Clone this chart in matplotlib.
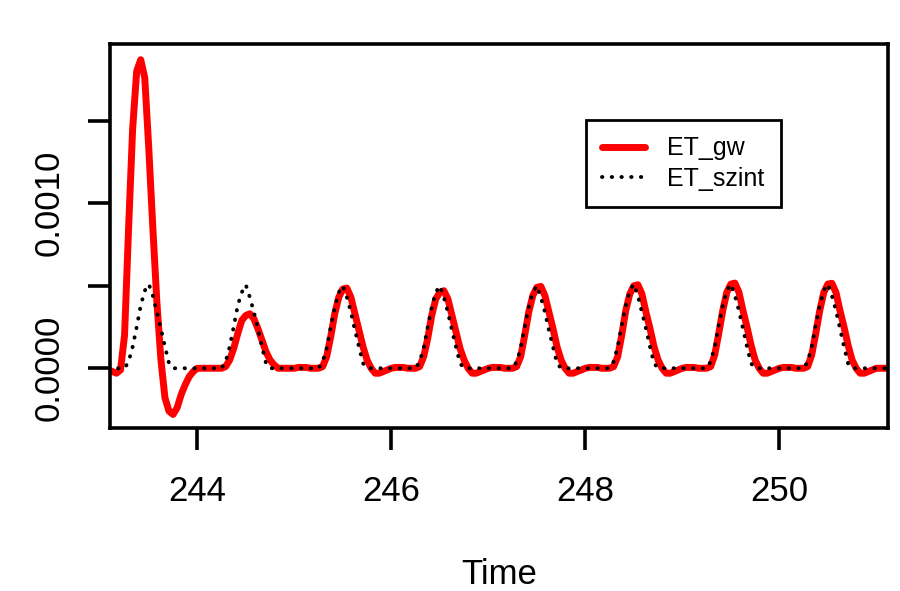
import numpy as np
import matplotlib
matplotlib.use("Agg")
import matplotlib.pyplot as plt

plt.rcParams['font.family'] = ['Liberation Sans', 'DejaVu Sans']

# hourly values, series starts at day 243, hour 2
first_hour = 2
et_gw = [
    # 243 (h2-h23)
    -0.00001, -0.00002, -0.00003, -0.00001, 0.0002, 0.00085, 0.00145, 0.0018, 0.00187, 0.00176, 0.00133,
    0.00085, 0.0004, 0.00005, -0.00018, -0.00026, -0.00028, -0.00024, -0.00016, -0.0001, -0.00005, -0.00002,
    # 244
    0, 0, 0, 0, 0, 0, 0, 0.00001, 0.00005, 0.00012, 0.00021, 0.00029,
    0.00032, 0.00033, 0.0003, 0.00024, 0.00017, 0.0001, 0.00005, 0.00002, 0, 0, 0, 0,
    # 245
    0, 0.000005, 0.000005, 0.000005, 0, 0, 0, 0.00001, 0.00007, 0.00019, 0.00033, 0.00043,
    0.00048, 0.000486, 0.00043, 0.00033, 0.00023, 0.00013, 0.00005, 0, -0.00003, -0.00003, -0.00002, -0.00001,
    # 246
    0, 0.000005, 0.000005, 0.000005, 0, 0, 0, 0.00001, 0.00007, 0.00018, 0.00032, 0.00042,
    0.00046, 0.00047, 0.00042, 0.00032, 0.00022, 0.00012, 0.00005, 0, -0.00003, -0.00003, -0.00002, -0.00001,
    # 247
    0, 0.000005, 0.000005, 0.000005, 0, 0, 0, 0.00001, 0.00007, 0.0002, 0.00034, 0.00044,
    0.00049, 0.000496, 0.00044, 0.00034, 0.00024, 0.00013, 0.00005, 0, -0.00003, -0.00003, -0.00002, -0.00001,
    # 248
    0, 0.000005, 0.000005, 0.000005, 0, 0, 0, 0.00001, 0.00007, 0.0002, 0.00035, 0.00045,
    0.0005, 0.000506, 0.00045, 0.00034, 0.00024, 0.00013, 0.00005, 0, -0.00003, -0.00003, -0.00002, -0.00001,
    # 249
    0, 0.000005, 0.000005, 0.000005, 0, 0, 0, 0.00001, 0.00008, 0.00021, 0.00035, 0.00046,
    0.00051, 0.000516, 0.00046, 0.00035, 0.00025, 0.00014, 0.00005, 0, -0.00003, -0.00003, -0.00002, -0.00001,
    # 250
    0, 0.000005, 0.000005, 0.000005, 0, 0, 0, 0.00001, 0.00008, 0.00021, 0.00035, 0.00046,
    0.00051, 0.000515, 0.00046, 0.00035, 0.00025, 0.00014, 0.00005, 0, -0.00003, -0.00003, -0.00002, -0.00001,
    # 251 (h0-h3)
    0, 0, 0, 0,
]
et_szint = [
    # 243 (h2-h23)
    0, 0, 0, 0, 0, 0.00004, 0.00013, 0.00025, 0.00038, 0.00047, 0.00051,
    0.00044, 0.00034, 0.00024, 0.00013, 0.00003, 0, 0, 0, 0, 0, 0,
    # 244
    0, 0, 0, 0, 0, 0, 0, 0.00004, 0.00013, 0.00025, 0.00038, 0.00046,
    0.000506, 0.00043, 0.00034, 0.00024, 0.00013, 0.00003, 0, 0, 0, 0, 0, 0,
    # 245
    0, 0, 0, 0, 0, 0, 0, 0.00004, 0.00012, 0.00025, 0.00037, 0.00046,
    0.0005, 0.00043, 0.00034, 0.00023, 0.00013, 0.00003, 0, 0, 0, 0, 0, 0,
    # 246
    0, 0, 0, 0, 0, 0, 0, 0.00004, 0.00012, 0.00025, 0.00037, 0.00046,
    0.0005, 0.00043, 0.00034, 0.00023, 0.00013, 0.00003, 0, 0, 0, 0, 0, 0,
    # 247
    0, 0, 0, 0, 0, 0, 0, 0.00004, 0.00012, 0.00025, 0.00037, 0.00046,
    0.0005, 0.00043, 0.00034, 0.00023, 0.00013, 0.00003, 0, 0, 0, 0, 0, 0,
    # 248
    0, 0, 0, 0, 0, 0, 0, 0.00004, 0.00013, 0.00026, 0.00038, 0.00047,
    0.00051, 0.00044, 0.00034, 0.00024, 0.00013, 0.00003, 0, 0, 0, 0, 0, 0,
    # 249
    0, 0, 0, 0, 0, 0, 0, 0.00004, 0.00013, 0.00026, 0.00038, 0.00047,
    0.00051, 0.00044, 0.00035, 0.00024, 0.00013, 0.00003, 0, 0, 0, 0, 0, 0,
    # 250
    0, 0, 0, 0, 0, 0, 0, 0.00004, 0.00013, 0.00026, 0.00038, 0.00047,
    0.00051, 0.00044, 0.00035, 0.00024, 0.00013, 0.00003, 0, 0, 0, 0, 0, 0,
    # 251 (h0-h3)
    0, 0, 0, 0,
]

x_ticks = [244, 246, 248, 250]
y_ticks = [0.0, 0.0005, 0.0010, 0.0015]
y_ticklabels = ['0.0000', '', '0.0010', '']

time = 243 + (np.arange(len(et_gw)) + first_hour) / 24.0

fig = plt.figure(figsize=(9, 5.91), dpi=100)
ax = fig.add_axes([110/900, 1 - 428/591, 778/900, 384/591])

ax.plot(time, et_gw, color='#ff0000', lw=5.0, solid_capstyle='round',
        solid_joinstyle='round', label='ET_gw')
ax.plot(time, et_szint, color='black', lw=2.8, linestyle=(0, (0.1, 2.4)),
        dash_capstyle='round', label='ET_szint')

ax.set_xlim(243.10, 251.12)
ax.set_ylim(-0.000362, 0.001965)
ax.set_xticks(x_ticks)
ax.set_xticklabels([str(t) for t in x_ticks])
ax.set_yticks(y_ticks)
ax.set_yticklabels(y_ticklabels, rotation=90, va='center')

for s in ax.spines.values():
    s.set_linewidth(2.6)
ax.tick_params(axis='both', length=15.8, width=2.6, labelsize=25)
ax.tick_params(axis='x', pad=18)
ax.tick_params(axis='y', pad=16)
ax.set_xlabel('Time', fontsize=25, labelpad=36)

leg = ax.legend(loc='upper left', bbox_to_anchor=(0.612, 0.802), borderaxespad=0,
                fontsize=18, handlelength=1.7, handletextpad=0.9, borderpad=0.65,
                labelspacing=0.25, fancybox=False, framealpha=1)
leg.get_frame().set_edgecolor('black')
leg.get_frame().set_linewidth(2.0)

fig.savefig('out.png', dpi=100)
